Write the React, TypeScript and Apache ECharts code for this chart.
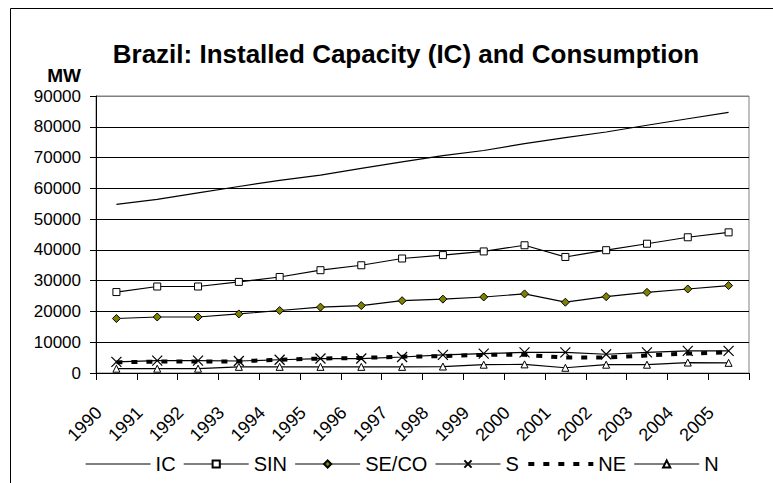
import React, { useEffect, useRef } from "react";
import * as echarts from "echarts";

const years = ["1990","1991","1992","1993","1994","1995","1996","1997","1998","1999","2000","2001","2002","2003","2004","2005"];
const ic = [54800, 56400, 58500, 60600, 62600, 64300, 66500, 68600, 70600, 72300, 74500, 76500, 78300, 80500, 82600, 84700];
const sin = [26300, 28100, 28100, 29600, 31200, 33400, 35000, 37200, 38300, 39500, 41500, 37700, 39900, 42000, 44100, 45700];
const seco = [17700, 18200, 18200, 19200, 20300, 21400, 21900, 23500, 24000, 24700, 25700, 23000, 24800, 26200, 27300, 28400];
const s = [3600, 4000, 4000, 3900, 4300, 4700, 4700, 5200, 5900, 6300, 6700, 6700, 6100, 6700, 7200, 7200];
const ne = [3500, 3700, 3700, 3800, 4300, 4700, 4900, 5300, 5500, 5900, 5900, 5000, 5000, 5700, 6300, 6700];
const n = [1400, 1400, 1400, 2000, 2000, 2000, 2000, 2000, 2100, 2700, 2800, 1700, 2700, 2700, 3400, 3300];
const yTicks = { min: 0, max: 90000, interval: 10000 };

const FONT = "'Liberation Sans', Arial, sans-serif";

export default function App() {
  const ref = useRef<HTMLDivElement>(null);
  useEffect(() => {
    document.body.style.margin = "0";
    const chart = echarts.init(ref.current!, null, { renderer: "svg" });
    const base = { type: "line", lineStyle: { color: "#000", width: 1.2 }, itemStyle: { color: "#fff", borderColor: "#000", borderWidth: 1 } };
    const splitColors = ["#000", "#000", "#000", "#000", "#000", "#000", "#000", "#000", "#000", "#808080"];
    const neDash = { color: "#000", width: 4, type: [6, 9], cap: "butt" };
    chart.setOption({
      animation: false,
      backgroundColor: "#fff",
      textStyle: { fontFamily: FONT },
      graphic: [
        { type: "rect", shape: { x: 10.5, y: 8.5, width: 900, height: 600 }, style: { fill: "none", stroke: "#000", lineWidth: 1 }, silent: true },
        { type: "text", x: 406, y: 54, style: { text: "Brazil: Installed Capacity (IC) and Consumption", fontFamily: FONT, fontWeight: "bold", fontSize: 26, fill: "#000", textAlign: "center", textVerticalAlign: "middle" } },
        { type: "text", x: 81, y: 75, style: { text: "MW", fontFamily: FONT, fontWeight: "bold", fontSize: 19, fill: "#000", textAlign: "right", textVerticalAlign: "middle" } },
      ],
      grid: { left: 96, right: 24, top: 96, bottom: 110, show: true, borderColor: "#808080", borderWidth: 1, backgroundColor: "transparent" },
      legend: {
        left: 80, top: 449, itemWidth: 65, itemHeight: 9, itemGap: 7.5,
        lineStyle: { width: "inherit" },
        textStyle: { fontSize: 20, color: "#000", fontFamily: FONT },
        data: ["IC", "SIN", "SE/CO", "S", { name: "NE", lineStyle: neDash }, "N"],
      },
      xAxis: {
        type: "category", data: years, boundaryGap: true,
        axisLine: { lineStyle: { color: "#000", width: 1 } },
        axisTick: { show: true, length: 7, lineStyle: { color: "#000" } },
        axisLabel: { rotate: 45, fontSize: 18, color: "#000", fontFamily: FONT, margin: 19, padding: [0, 25, 0, 0], interval: 0 },
        splitLine: { show: false },
      },
      yAxis: {
        type: "value", min: yTicks.min, max: yTicks.max, interval: yTicks.interval,
        axisLine: { show: true, lineStyle: { color: "#000", width: 1 } },
        axisTick: { show: true, length: 6, lineStyle: { color: "#000" } },
        axisLabel: { fontSize: 17, color: "#000", fontFamily: FONT, margin: 15, formatter: (v: number) => String(v) },
        splitLine: { show: true, lineStyle: { color: splitColors, width: 1 } },
      },
      series: [
        { ...base, name: "IC", data: ic, symbol: "none", itemStyle: { opacity: 0 } },
        { ...base, name: "SIN", data: sin, symbol: "rect", symbolSize: 7 },
        { ...base, name: "SE/CO", data: seco, symbol: "diamond", symbolSize: 8, itemStyle: { color: "#808000", borderColor: "#000", borderWidth: 1 } },
        { ...base, name: "S", data: s, symbol: "path://M0 0L10 10M10 0L0 10", symbolSize: 10, itemStyle: { color: "#000", borderColor: "#000", borderWidth: 1.2 } },
        { ...base, name: "NE", data: ne, symbol: "none", itemStyle: { opacity: 0 }, lineStyle: neDash },
        { ...base, name: "N", data: n, symbol: "triangle", symbolSize: 7 },
      ],
    });
    return () => chart.dispose();
  }, []);
  return <div ref={ref} style={{ width: 773, height: 483 }} />;
}
